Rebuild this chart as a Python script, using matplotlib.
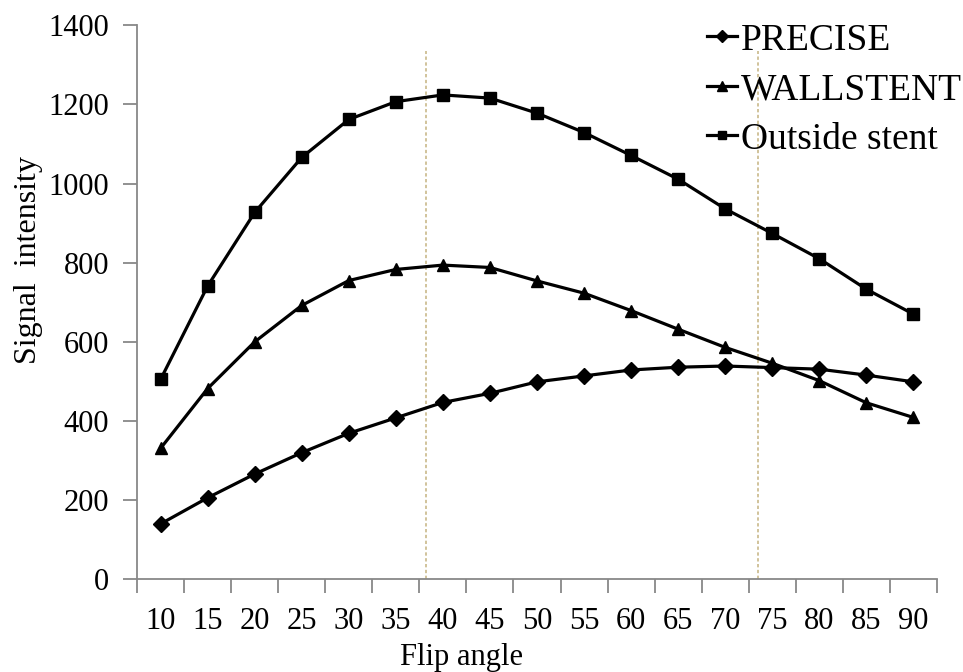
import matplotlib.pyplot as plt
import numpy as np

angles = [10, 15, 20, 25, 30, 35, 40, 45, 50, 55, 60, 65, 70, 75, 80, 85, 90]
precise = [140, 206, 266, 320, 369, 408, 447, 470, 499, 514, 529, 536, 539, 535, 531, 516, 499]
wallstent = [331, 482, 600, 692, 755, 783, 794, 788, 754, 723, 679, 632, 586, 546, 502, 446, 409]
outside = [505, 741, 927, 1066, 1162, 1207, 1224, 1216, 1178, 1129, 1071, 1011, 936, 874, 810, 733, 670]
ref_angles = [38.2, 73.5]

plt.rcParams['font.family'] = ['Liberation Serif', 'DejaVu Serif']

fig = plt.figure(figsize=(9.63, 6.72), dpi=100)
ax = fig.add_axes([0.1423, 0.1379, 0.8307, 0.8245])

x = np.arange(len(angles))
ax.plot(x, precise, color='black', lw=2.3, marker='D', ms=8, label='PRECISE')
ax.plot(x, wallstent, color='black', lw=2.3, marker='^', ms=9, label='WALLSTENT')
ax.plot(x, outside, color='black', lw=2.3, marker='s', ms=8.5, label='Outside stent')

# reference lines, positioned by angle on the category axis
for a in ref_angles:
    xi = (a - angles[0]) / (angles[1] - angles[0])
    ax.plot([xi, xi], [0, 1335], color='#c9b98a', lw=1.2, ls=(0, (2, 1.5)), zorder=0)

ax.set_xlim(-0.5, len(angles) - 0.5)
ax.set_ylim(0, 1400)
ax.set_yticks(range(0, 1401, 200))
ax.set_xticks(x)
ax.set_xticklabels([str(a) for a in angles])
ax.set_xticks(np.arange(-0.5, len(angles)), minor=True)
ax.tick_params(axis='x', which='major', length=0, labelsize=22, pad=20)
ax.tick_params(axis='x', which='minor', length=10, width=1.3, color='#888888')
ax.tick_params(axis='y', length=10, width=1.3, color='#888888', labelsize=22, pad=10)

for side in ['top', 'right']:
    ax.spines[side].set_visible(False)
for side in ['left', 'bottom']:
    ax.spines[side].set_color('#888888')
    ax.spines[side].set_linewidth(1.3)

ax.set_xlabel('Flip angle', fontsize=22)
ax.set_ylabel('Signal  intensity', fontsize=23)
ax.xaxis.set_label_coords(0.406, -0.115)
ax.yaxis.set_label_coords(-0.118, 0.576)

ax.legend(loc='upper right', bbox_to_anchor=(1.073, 1.065), frameon=False, fontsize=27,
          handlelength=0.8, handletextpad=0.1, labelspacing=0.4, markerscale=0.75)

fig.savefig('out.png', dpi=100)
